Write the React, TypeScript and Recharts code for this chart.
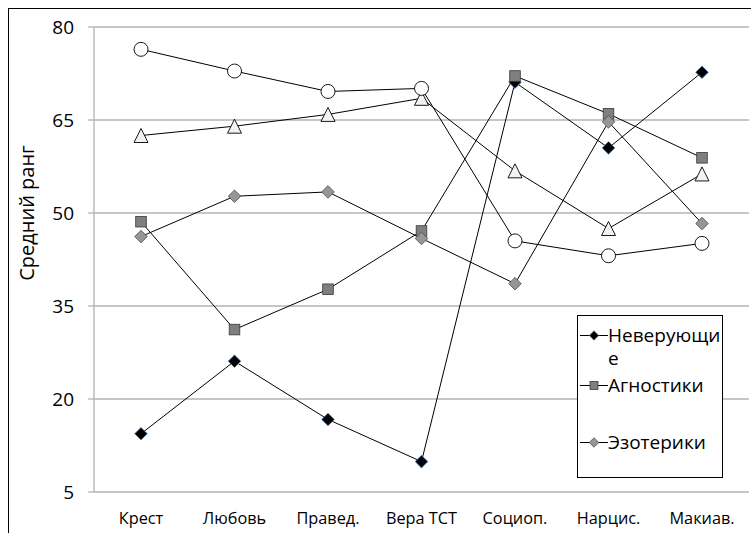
import React from 'react';
import { LineChart, Line, XAxis, YAxis, CartesianGrid, Legend } from 'recharts';

const categories = ['Крест', 'Любовь', 'Правед.', 'Вера ТСТ', 'Социоп.', 'Нарцис.', 'Макиав.'];

const nonBelievers = [14.4, 26.1, 16.7, 9.9, 71.1, 60.5, 72.7];
const agnostics = [48.6, 31.2, 37.7, 47.1, 72.1, 66.0, 58.9];
const esoterics = [46.2, 52.7, 53.4, 45.9, 38.6, 64.7, 48.3];
const groupTriangle = [62.5, 64.0, 65.9, 68.5, 56.8, 47.5, 56.3];
const groupCircle = [76.4, 72.9, 69.6, 70.1, 45.5, 43.1, 45.1];

const yTicks = [5, 20, 35, 50, 65, 80];
const bandEdges = [0, 1, 2, 3, 4, 5, 6, 7];
const legendOrder = ['nonBelievers', 'agnostics', 'esoterics'];

const data = categories.map((name, i) => ({
  name,
  nonBelievers: nonBelievers[i],
  agnostics: agnostics[i],
  esoterics: esoterics[i],
  groupTriangle: groupTriangle[i],
  groupCircle: groupCircle[i],
}));

const FONT = '"Open Sans", sans-serif';
const GRID = '#b3b3b3';

type Shape = 'blackDiamond' | 'square' | 'grayDiamond' | 'triangle' | 'circle';

const shapes: Record<string, Shape> = {
  nonBelievers: 'blackDiamond',
  agnostics: 'square',
  esoterics: 'grayDiamond',
  groupTriangle: 'triangle',
  groupCircle: 'circle',
};

const Marker = ({ cx, cy, shape, s = 1 }: { cx: number; cy: number; shape: Shape; s?: number }) => {
  if (cx == null || cy == null) return null;
  switch (shape) {
    case 'blackDiamond': {
      const r = 6.3 * s;
      return (
        <path
          d={`M${cx},${cy - r}L${cx + r},${cy}L${cx},${cy + r}L${cx - r},${cy}Z`}
          fill="#000"
          stroke="#4a7ebb"
          strokeWidth={0.8}
        />
      );
    }
    case 'grayDiamond': {
      const r = 6.3 * s;
      return (
        <path
          d={`M${cx},${cy - r}L${cx + r},${cy}L${cx},${cy + r}L${cx - r},${cy}Z`}
          fill="#969696"
          stroke="#4d4d4d"
          strokeWidth={0.8}
        />
      );
    }
    case 'square': {
      const h = 5.3 * s;
      return <rect x={cx - h} y={cy - h} width={h * 2} height={h * 2} fill="#7f7f7f" stroke="#3a3a3a" strokeWidth={0.8} />;
    }
    case 'triangle': {
      const h = 7 * s;
      return (
        <path
          d={`M${cx},${cy - h}L${cx + h},${cy + h}L${cx - h},${cy + h}Z`}
          fill="#f2f2f2"
          stroke="#000"
          strokeWidth={0.9}
        />
      );
    }
    default:
      return <circle cx={cx} cy={cy} r={7 * s} fill="#fff" stroke="#000" strokeWidth={0.9} />;
  }
};

const dotFor = (key: string) => (props: any) => (
  <Marker key={`${key}-${props.index}`} cx={props.cx} cy={props.cy} shape={shapes[key]} />
);

// gaps below each legend row, mimicking the Excel box
const legendGaps = [4, 34, 0];

const renderLegend = (props: any) => {
  const items = (props.payload || [])
    .filter((p: any) => p.type !== 'none')
    .sort((a: any, b: any) => legendOrder.indexOf(a.dataKey) - legendOrder.indexOf(b.dataKey));
  return (
    <div
      style={{
        width: 146,
        height: 163,
        boxSizing: 'border-box',
        border: '1px solid #000',
        background: '#fff',
        paddingTop: 8,
        paddingLeft: 2,
        fontFamily: FONT,
        fontSize: 19,
        lineHeight: '23px',
        color: '#000',
      }}
    >
      {items.map((entry: any, i: number) => (
        <div key={entry.value} style={{ display: 'flex', alignItems: 'flex-start', marginBottom: legendGaps[i] }}>
          <svg width={28} height={23} style={{ flex: 'none' }}>
            <line x1={0} y1={11.5} x2={28} y2={11.5} stroke="#000" strokeWidth={1} />
            <Marker cx={14} cy={11.5} shape={shapes[entry.dataKey]} s={0.75} />
          </svg>
          <span style={{ width: 114, wordBreak: 'break-all' }}>{entry.value}</span>
        </div>
      ))}
    </div>
  );
};

export default function App() {
  return (
    <div
      style={{
        position: 'fixed',
        left: 8,
        top: 8,
        width: 743,
        height: 525,
        boxSizing: 'border-box',
        borderLeft: '1px solid #000',
        borderTop: '1px solid #000',
        background: '#fff',
        overflow: 'hidden',
      }}
    >
      <LineChart width={742} height={524} data={data} margin={{ top: 18, right: 2, bottom: 0, left: 0 }}>
        <CartesianGrid vertical={false} stroke={GRID} strokeWidth={1.3} />
        <XAxis
          xAxisId="edges"
          type="number"
          domain={[0, 7]}
          ticks={bandEdges}
          height={0}
          tick={false}
          tickSize={6}
          stroke={GRID}
          axisLine={{ stroke: GRID, strokeWidth: 1.3 }}
          tickLine={{ stroke: GRID, strokeWidth: 1.3 }}
        />
        <XAxis
          dataKey="name"
          height={41}
          padding={{ left: 47, right: 47 }}
          axisLine={false}
          tickLine={false}
          tickSize={0}
          tickMargin={20}
          interval={0}
          tick={{ fill: '#000', fontSize: 16.3, fontFamily: FONT }}
        />
        <YAxis
          domain={[5, 80]}
          ticks={yTicks}
          interval={0}
          width={85}
          tickSize={6}
          tickMargin={14}
          stroke={GRID}
          axisLine={{ stroke: GRID, strokeWidth: 1.3 }}
          tickLine={{ stroke: GRID, strokeWidth: 1.3 }}
          tick={{ fill: '#000', fontSize: 19, fontFamily: FONT }}
          label={{
            content: () => (
              <text
                x={17}
                y={204}
                transform="rotate(-90 17 204)"
                textAnchor="middle"
                dominantBaseline="central"
                fontFamily={FONT}
                fontSize={20}
                fill="#000"
              >
                Средний ранг
              </text>
            ),
          }}
        />
        <Legend
          layout="vertical"
          align="center"
          verticalAlign="middle"
          content={renderLegend}
          wrapperStyle={{ left: 568, top: 306, width: 146, height: 163 }}
        />
        <Line dataKey="nonBelievers" name="Неверующие" stroke="#000" strokeWidth={1} dot={dotFor('nonBelievers')} activeDot={false} isAnimationActive={false} />
        <Line dataKey="agnostics" name="Агностики" stroke="#000" strokeWidth={1} dot={dotFor('agnostics')} activeDot={false} isAnimationActive={false} />
        <Line dataKey="esoterics" name="Эзотерики" stroke="#000" strokeWidth={1} dot={dotFor('esoterics')} activeDot={false} isAnimationActive={false} />
        <Line dataKey="groupTriangle" name="Группа 4" legendType="none" stroke="#000" strokeWidth={1} dot={dotFor('groupTriangle')} activeDot={false} isAnimationActive={false} />
        <Line dataKey="groupCircle" name="Группа 5" legendType="none" stroke="#000" strokeWidth={1} dot={dotFor('groupCircle')} activeDot={false} isAnimationActive={false} />
      </LineChart>
    </div>
  );
}
